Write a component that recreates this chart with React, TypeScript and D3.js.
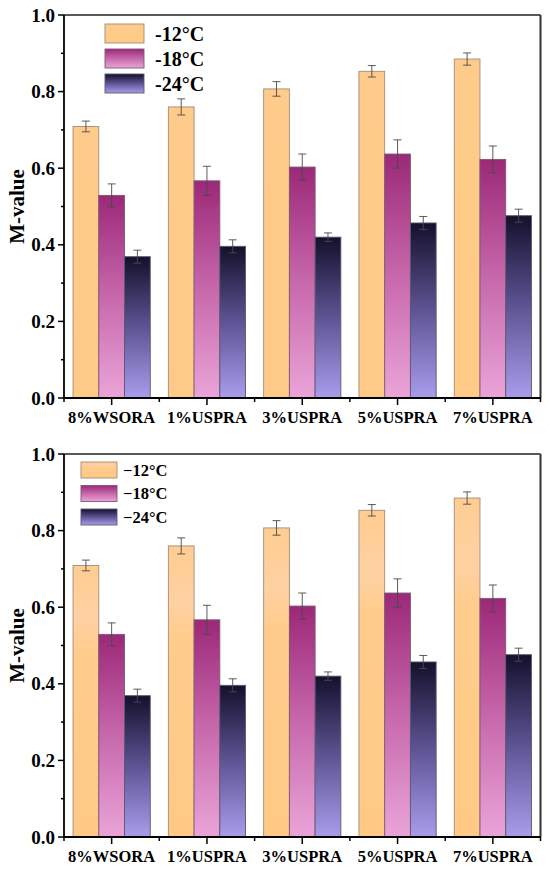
import * as d3 from 'd3'

const categories = ['8%WSORA', '1%USPRA', '3%USPRA', '5%USPRA', '7%USPRA']
const seriesKeys = ['m12', 'm18', 'm24']
const valuesM12 = [0.709, 0.760, 0.807, 0.853, 0.885]
const errorsM12 = [0.014, 0.021, 0.019, 0.015, 0.016]
const valuesM18 = [0.529, 0.567, 0.603, 0.637, 0.623]
const errorsM18 = [0.030, 0.038, 0.034, 0.037, 0.035]
const valuesM24 = [0.369, 0.396, 0.420, 0.457, 0.476]
const errorsM24 = [0.017, 0.017, 0.011, 0.017, 0.017]
const labelsHyphen = ['-12°C', '-18°C', '-24°C']
const labelsMinus = ['\u221212°C', '\u221218°C', '\u221224°C']
const yTicks = [0, 0.2, 0.4, 0.6, 0.8, 1.0]
const yMinorTicks = [0.1, 0.3, 0.5, 0.7, 0.9]

const values = [valuesM12, valuesM18, valuesM24]
const errors = [errorsM12, errorsM18, errorsM24]

const W = 550
const H = 870
const left = 64
const right = 540.5
const font = '"Liberation Serif", "Times New Roman", serif'

interface PanelProps {
  id: string
  top: number
  bottom: number
  labels: string[]
  legend: { x: number; y: number; w: number; h: number; step: number; gap: number; size: number }
  banded: boolean
}

function Panel({ id, top, bottom, labels, legend, banded }: PanelProps) {
  const x = d3.scaleBand<string>().domain(categories).range([left, right]).padding(0)
  const inner = d3.scaleBand<string>().domain(seriesKeys).range([0, x.bandwidth() * 0.81])
  const offset = (x.bandwidth() - inner.range()[1]) / 2
  const y = d3.scaleLinear().domain([0, 1]).range([bottom, top])
  const fills = [`url(#${id}-org)`, `url(#${id}-pink)`, `url(#${id}-blue)`]
  const strokes = ['#a08c78', '#7a5a70', '#5a5a70']
  const boundaries = categories.map(c => x(c) as number).concat([right])

  return (
    <g>
      <defs>
        <linearGradient id={`${id}-org`} x1="0" y1="0" x2="0" y2="1">
          {banded ? (
            <>
              <stop offset="0" stopColor="#ffcd92" />
              <stop offset="0.2" stopColor="#ffd1a2" />
              <stop offset="0.32" stopColor="#ffcc8c" />
              <stop offset="1" stopColor="#ffc985" />
            </>
          ) : (
            <>
              <stop offset="0" stopColor="#ffcb8a" />
              <stop offset="1" stopColor="#ffca87" />
            </>
          )}
        </linearGradient>
        <linearGradient id={`${id}-pink`} x1="0" y1="0" x2="0" y2="1">
          <stop offset="0" stopColor="#9c2878" />
          <stop offset="0.5" stopColor="#c768ac" />
          <stop offset="1" stopColor="#eaa4d8" />
        </linearGradient>
        <linearGradient id={`${id}-blue`} x1="0" y1="0" x2="0" y2="1">
          <stop offset="0" stopColor="#14102c" />
          <stop offset="0.5" stopColor="#5e5494" />
          <stop offset="1" stopColor="#a99cec" />
        </linearGradient>
      </defs>

      {/* bars */}
      {categories.map((c, i) => (
        <g key={c} transform={`translate(${(x(c) as number) + offset},0)`}>
          {seriesKeys.map((k, s) => {
            const bx = inner(k) as number
            const bw = inner.bandwidth()
            const v = values[s][i]
            const e = errors[s][i]
            const cx = bx + bw / 2
            return (
              <g key={k}>
                <rect x={bx} y={y(v)} width={bw} height={y(0) - y(v)}
                  fill={fills[s]} stroke={strokes[s]} strokeWidth={0.9} />
                <line x1={cx} x2={cx} y1={y(v + e)} y2={y(v - e)} stroke="#4a4a4a" strokeWidth={0.9} />
                <line x1={cx - 4} x2={cx + 4} y1={y(v + e)} y2={y(v + e)} stroke="#4a4a4a" strokeWidth={0.9} />
                <line x1={cx - 4} x2={cx + 4} y1={y(v - e)} y2={y(v - e)} stroke="#4a4a4a" strokeWidth={0.9} />
              </g>
            )
          })}
        </g>
      ))}

      {/* frame */}
      <line x1={left} x2={right} y1={top} y2={top} stroke="#222" strokeWidth={1.5} />
      <line x1={right} x2={right} y1={top} y2={bottom} stroke="#333" strokeWidth={2} />
      <line x1={left} x2={left} y1={top} y2={bottom} stroke="#000" strokeWidth={1.8} />
      <line x1={left} x2={right} y1={bottom} y2={bottom} stroke="#000" strokeWidth={1.8} />

      {/* y axis */}
      {yTicks.map(t => (
        <g key={t}>
          <line x1={left - 6} x2={left} y1={y(t)} y2={y(t)} stroke="#000" strokeWidth={1.5} />
          <text x={left - 9} y={y(t)} dy="0.35em" textAnchor="end" fontFamily={font}
            fontWeight="bold" fontSize={19}>{d3.format('.1f')(t)}</text>
        </g>
      ))}
      {yMinorTicks.map(t => (
        <line key={t} x1={left - 3} x2={left} y1={y(t)} y2={y(t)} stroke="#000" strokeWidth={1.5} />
      ))}
      <text transform={`translate(24,${(top + bottom) / 2}) rotate(-90)`} textAnchor="middle"
        fontFamily={font} fontWeight="bold" fontSize={21}>M-value</text>

      {/* x axis */}
      {boundaries.map((b, i) => (
        <line key={i} x1={b} x2={b} y1={bottom} y2={bottom + 4} stroke="#000" strokeWidth={1.5} />
      ))}
      {categories.map(c => {
        const cx = (x(c) as number) + x.bandwidth() / 2
        return (
          <g key={c}>
            <line x1={cx} x2={cx} y1={bottom} y2={bottom + 7} stroke="#000" strokeWidth={1.5} />
            <text x={cx} y={bottom + 25} textAnchor="middle" fontFamily={font}
              fontWeight="bold" fontSize={16.5}>{c}</text>
          </g>
        )
      })}

      {/* legend */}
      {labels.map((l, s) => (
        <g key={l} transform={`translate(${legend.x},${legend.y + s * legend.step})`}>
          <rect width={legend.w} height={legend.h} fill={fills[s]} stroke={strokes[s]} strokeWidth={0.9} />
          <text x={legend.w + legend.gap} y={legend.h / 2} dy="0.35em" fontFamily={font}
            fontWeight="bold" fontSize={legend.size}>{l}</text>
        </g>
      ))}
    </g>
  )
}

export default function App() {
  return (
    <svg width={W} height={H} style={{ position: 'absolute', left: 0, top: 0, background: '#fff' }}>
      <rect width={W} height={H} fill="#fff" />
      <Panel id="a" top={15} bottom={398} labels={labelsHyphen}
        legend={{ x: 105, y: 24, w: 39, h: 19, step: 25, gap: 11, size: 20 }} banded={false} />
      <Panel id="b" top={454} bottom={837} labels={labelsMinus}
        legend={{ x: 81, y: 462, w: 36, h: 16, step: 23.5, gap: 6, size: 16.5 }} banded={true} />
    </svg>
  )
}
